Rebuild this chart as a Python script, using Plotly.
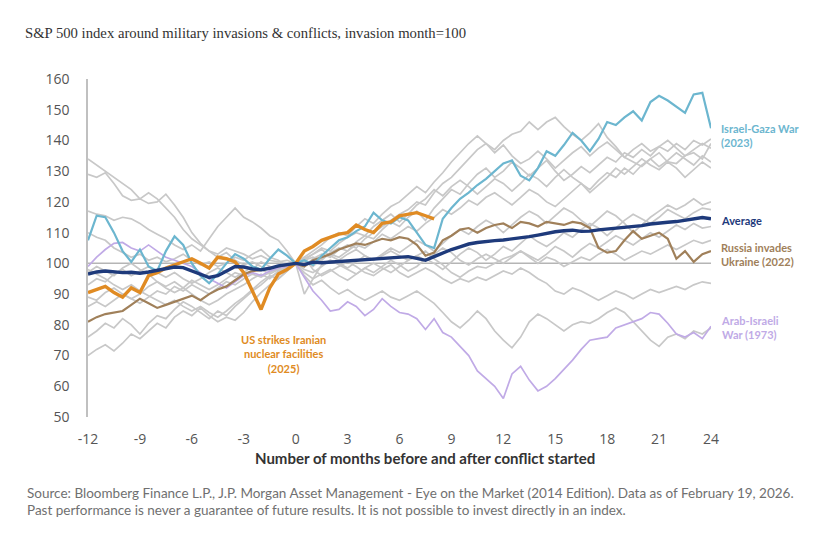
import plotly.graph_objects as go

months = [m / 2 for m in range(-24, 49)]  # -12 .. 24 step 0.5

israel_gaza_2023 = [107.5, 115.5, 115, 110, 104, 100.5, 104.5, 99, 97.5, 104, 108.8, 106, 100, 96, 93.5, 96.5, 100, 103, 101.5, 99, 98, 101.5, 104.5, 102.5, 100,
                    101, 99.5, 102.5, 105, 107.5, 108.5, 110.5, 112, 116.5, 114, 113, 115, 114, 110, 106, 105, 114.5, 118, 121, 123, 125.5, 127.5, 130, 132.5,
                    133.5, 128.5, 127, 131, 136.5, 135, 138.5, 142.5, 140, 136.5, 140.5, 146, 145, 147.5, 149.5, 146.5, 152.5, 154.5, 153, 151, 149, 155, 155.5, 144]

average = [96.5, 97.2, 97.5, 97.3, 97.0, 97.1, 96.8, 97.2, 97.8, 98.2, 98.8, 98.6, 97.5, 96.3, 95.4, 96.0, 97.5, 99.0, 98.8, 98.2, 97.9, 98.4, 99.2, 99.6, 100,
           99.6, 100.4, 100.2, 100.4, 100.6, 100.8, 101.0, 101.2, 101.4, 101.6, 101.8, 102.0, 102.2, 101.6, 101.0, 102.2, 103.4, 104.5, 105.4, 106.3, 106.8, 107.2, 107.4, 107.6,
           107.9, 108.2, 108.7, 109.2, 109.8, 110.3, 110.6, 110.8, 110.4, 110.5, 110.9, 111.2, 111.4, 111.6, 112.0, 112.3, 112.8, 113.2, 113.4, 113.6, 114.1, 114.6, 114.9, 114.5]

russia_ukraine_2022 = [81, 82.5, 83.5, 84, 84.5, 86.5, 88.5, 87, 85.5, 86.5, 87.5, 88.5, 89.5, 88, 90, 91.5, 92.5, 94.5, 96.5, 97.5, 97.8, 98.5, 99, 99.5, 100,
                       99, 101, 102, 103, 104.5, 105.5, 106.5, 106, 107, 108, 107.5, 108.5, 108, 106, 102.5, 103.5, 107.5, 109, 111, 111.5, 110, 111.5, 112.5, 113,
                       111.5, 113.5, 113, 112, 113.5, 113, 112.5, 113.5, 113, 111.5, 105, 103.5, 104, 107.5, 110.5, 108, 109, 110, 108, 101.5, 104, 100.5, 103, 104]

arab_israeli_1973 = [99, 102, 104.5, 106.5, 106.8, 105, 104, 106, 104, 102, 101, 100, 99, 97, 95, 93.5, 92, 94, 96, 97, 96, 97.5, 98.5, 99, 100,
                     95.5, 91, 88, 84.5, 85, 87.5, 86, 83, 85, 88.5, 86, 84, 83.5, 82, 78.5, 82, 77.5, 76, 73, 70, 65, 62.5, 60, 56,
                     64, 66.5, 62, 58.5, 60, 62.5, 65.5, 68.5, 72, 75, 75.5, 76, 79, 80, 81, 82, 84, 83.5, 80.5, 77, 76, 77.5, 75.5, 79.5]

us_strikes_iran_2025 = [90.5, 91.5, 92.5, 90.5, 89, 92, 90.5, 96, 97, 98.5, 99.5, 100.5, 101.5, 100, 98.5, 102, 101.5, 100.5, 97, 91, 85, 92, 96.5, 98, 100,
                        104, 105.5, 107.5, 108.5, 109.5, 110, 112.5, 111, 110, 113, 113.5, 115.5, 116, 116.5, 115.5, 114.5]

other_conflicts = [
    [134, 132, 130, 128, 126, 124, 121, 123, 121, 118, 115, 111, 108, 106, 104, 103, 105, 104, 103, 101.5, 102.5, 101, 100.5, 101, 100,
     99, 101.5, 103, 102, 104.5, 106, 105, 108, 110, 112, 114, 116, 117.5, 120, 119, 123, 126, 128, 131, 134, 137, 139, 137, 140,
     142, 143, 146, 143.5, 146, 147.5, 144.5, 142, 140, 142.5, 145.5, 141, 138, 134.5, 133, 131.5, 134, 136, 133, 132.5, 135, 136, 134, 139],
    [129, 128, 129.5, 126, 122, 120.5, 121, 119.5, 120, 122.5, 119, 115, 110, 106.5, 104, 102, 103.5, 101, 99.5, 100.5, 99, 98, 99, 99.5, 100,
     101, 102, 101, 103.5, 105, 104, 107, 109, 108, 111, 113.5, 112, 115, 117, 114, 118, 121, 124, 122.5, 126, 129, 131, 128, 130,
     133, 131, 128.5, 131, 133.5, 130, 127, 129, 131.5, 129.5, 132, 134.5, 133, 136, 134.5, 137, 135, 138, 136.5, 139, 137, 140, 138.5, 140.5],
    [117, 116, 115.5, 114, 115, 114.5, 113, 111, 109.5, 108, 106, 104.5, 106, 104, 108, 112, 115, 118, 115, 113.5, 111.5, 109, 107.5, 104, 100,
     101.5, 103, 105, 104, 106.5, 108.5, 110, 109, 112, 114, 116, 113.5, 116, 119, 121, 124, 122, 125, 127, 125, 122.5, 125, 127.5, 126,
     123.5, 126, 129, 127.5, 125, 128, 130.5, 128, 126, 123, 125.5, 128, 131, 129, 131.5, 134, 132, 130.5, 133, 131, 128, 130.5, 133, 131],
    [110, 108.5, 107.5, 105, 103.5, 102, 103, 101, 102, 100.5, 101.5, 103, 101, 99.5, 100.5, 99, 100, 102, 101, 103, 104.5, 102, 101, 99, 100,
     102, 104, 106, 108.5, 110, 109, 112, 114.5, 113, 116, 118.5, 120, 122.5, 125, 123, 126.5, 129.5, 133, 136, 139, 141.5, 139, 136, 138.5,
     135, 132.5, 134, 136.5, 134, 131, 133.5, 136, 138, 135, 137.5, 139.5, 137, 134.5, 137, 139, 136.5, 138, 140, 137.5, 135, 137, 139, 137.5],
    [86, 87.5, 86, 88, 90, 88.5, 87, 89, 91, 90, 92.5, 91, 93, 91.5, 90, 92, 94, 93, 95, 96.5, 95.5, 97, 98.5, 99, 100,
     100.5, 99, 101.5, 103, 102, 104, 106, 105, 107, 109.5, 108, 110, 112, 110.5, 113, 115, 117.5, 116, 118, 120.5, 119, 121.5, 123, 121,
     119, 121.5, 124, 122.5, 120, 118.5, 121, 123.5, 126, 124, 127, 129.5, 128, 131, 129, 132, 134, 131.5, 133.5, 136, 134, 132, 135, 133],
    [76, 78, 80.5, 79, 82, 80, 77, 80.5, 83, 82, 85, 87.5, 86, 84, 82, 84.5, 83, 86, 88.5, 91, 93, 95.5, 97, 98.5, 100,
     98, 97, 99, 101, 100, 98.5, 100.5, 102.5, 101, 103, 105, 103.5, 105.5, 107.5, 106, 104, 106.5, 109, 111, 109.5, 112, 114, 112.5, 110,
     112.5, 115, 117, 115.5, 113, 115.5, 118, 116.5, 114, 112, 114.5, 117, 115.5, 113, 110, 112.5, 115, 117, 119, 117.5, 119, 121, 119, 120],
    [70, 72, 73.5, 71.5, 74, 77, 75.5, 78, 80.5, 79, 82.5, 84.5, 83, 85.5, 83, 81, 82.5, 81.5, 84, 87.5, 90.5, 93, 95, 97.5, 100,
     97, 95, 96.5, 98, 96, 94.5, 96.5, 98.5, 97, 99, 101, 99.5, 97.5, 99, 101.5, 100, 98, 100.5, 103, 105, 103.5, 101, 103, 105.5,
     104, 106.5, 109, 107, 105.5, 107.5, 110, 108.5, 111, 113, 111.5, 109, 111.5, 114, 116, 114.5, 113, 115, 117.5, 116, 114.5, 116.5, 118, 117.5],
    [93, 95, 94, 96.5, 98, 96, 97.5, 99, 97, 95.5, 97, 95, 93.5, 95, 97, 98.5, 97, 95.5, 97, 99, 98, 96.5, 98, 99.5, 100,
     90, 95, 99.5, 101, 99.5, 98, 96.5, 98.5, 100, 98.5, 97, 99, 101, 102.5, 101, 103, 105, 103.5, 101, 99.5, 101.5, 103, 101.5, 100,
     102, 104, 102.5, 101, 103, 105.5, 104, 102, 104.5, 106.5, 105, 107, 109, 107.5, 106, 108, 110, 108.5, 110.5, 112.5, 111, 113, 111.5, 112],
    [97, 99, 97.5, 96, 98.5, 100, 98, 96.5, 94, 92.5, 94, 92, 90, 88, 86.5, 88, 90, 91.5, 93, 95, 96.5, 95, 97.5, 99, 100,
     102, 98, 96, 97.5, 99, 100.5, 99, 97, 96, 98, 99.5, 97, 95.5, 97, 98.5, 97, 95, 93.5, 95, 94, 95.5, 94.5, 96, 97.5,
     96.5, 98.5, 97, 95, 93.5, 91, 90, 92, 91, 89.5, 88, 89.5, 91, 90, 88.5, 90, 91.5, 90.5, 91.5, 92.5, 91.5, 93, 94, 93.5],
    [98, 96.5, 95, 93, 91.5, 93, 91, 89.5, 88, 86.5, 88, 86, 84.5, 86, 84, 82.5, 84.5, 87, 89, 91.5, 94, 96, 95, 97.5, 100,
     96, 93, 94.5, 92, 90, 91.5, 89.5, 88, 89.5, 91, 89, 88, 89.5, 91, 89, 87, 84, 81, 79, 81.5, 84.5, 82, 78, 75,
     72.5, 76, 81, 83.5, 82, 80, 78, 80, 81, 80.5, 82, 84, 85.5, 84, 81, 78, 75, 73, 76, 77, 75.5, 78, 77, 79],
    [89, 88, 90.5, 92, 90, 88.5, 90, 92.5, 94, 92, 90.5, 92, 94.5, 93, 91.5, 93, 95, 97, 96, 98, 100.5, 99, 97.5, 98.5, 100,
     101, 103, 104.5, 102.5, 101, 103, 104.5, 102.5, 101, 102.5, 104, 102.5, 101, 102.5, 104, 101.5, 99.5, 97, 95.5, 97.5, 99, 98.5, 100, 101.5,
     102.5, 104, 102, 100, 102, 101, 99, 100.5, 102, 101, 103, 104.5, 103, 101, 102.5, 104, 103, 104.5, 106, 104.5, 106, 107.5, 106.5, 107.5],
]

tick_values = [-12, -9, -6, -3, 0, 3, 6, 9, 12, 15, 18, 21, 24]
tick_labels = ["-12", "-9", "-6", "-3", "0", "3", "6", "9", "12", "15", "18", "21", "24"]
y_ticks = [50, 60, 70, 80, 90, 100, 110, 120, 130, 140, 150, 160]

GREY = "#c8c8c8"
C_GAZA = "#6cb6cf"
C_AVG = "#1e3a7b"
C_RUS = "#a0805a"
C_ARAB = "#c0aae6"
C_IRAN = "#e08b23"

fig = go.Figure()

for s in other_conflicts:
    fig.add_trace(go.Scatter(x=months[:len(s)], y=s, mode="lines",
                             line=dict(color=GREY, width=1.7), hoverinfo="skip", showlegend=False))

fig.add_trace(go.Scatter(x=months, y=arab_israeli_1973, mode="lines",
                         line=dict(color=C_ARAB, width=1.7), showlegend=False))
fig.add_trace(go.Scatter(x=months, y=russia_ukraine_2022, mode="lines",
                         line=dict(color=C_RUS, width=2.2), showlegend=False))
fig.add_trace(go.Scatter(x=months, y=israel_gaza_2023, mode="lines",
                         line=dict(color=C_GAZA, width=2.2), showlegend=False))
fig.add_trace(go.Scatter(x=months[:len(us_strikes_iran_2025)], y=us_strikes_iran_2025, mode="lines",
                         line=dict(color=C_IRAN, width=3.4), showlegend=False))
fig.add_trace(go.Scatter(x=months, y=average, mode="lines",
                         line=dict(color=C_AVG, width=3.4), showlegend=False))

fig.add_shape(type="line", xref="x", yref="y", x0=-12, x1=24, y0=100, y1=100,
              line=dict(color="#b5b5b5", width=1.5), layer="below")

lab_font = "Lato"
annots = [
    dict(x=24, y=141.5, text="Israel-Gaza War<br>(2023)", color=C_GAZA),
    dict(x=24, y=114, text="Average", color=C_AVG),
    dict(x=24, y=103, text="Russia invades<br>Ukraine (2022)", color=C_RUS),
    dict(x=24, y=79, text="Arab-Israeli<br>War (1973)", color=C_ARAB),
]
for a in annots:
    fig.add_annotation(x=a["x"], y=a["y"], xref="x", yref="y", text="<b>" + a["text"] + "</b>",
                       showarrow=False, xanchor="left", yanchor="middle", xshift=8, align="left",
                       font=dict(family=lab_font, size=11, color=a["color"]))

fig.add_annotation(x=-0.7, y=70.5, xref="x", yref="y",
                   text="<b>US strikes Iranian<br>nuclear facilities<br>(2025)</b>",
                   showarrow=False, xanchor="center", yanchor="middle", align="center",
                   font=dict(family=lab_font, size=11, color=C_IRAN))

# plot area spans 623 x 338 px; convert page pixels to paper coords
def px_x(px):
    return (px - 88) / 623

def px_y(py):
    return (417 - py) / 338

fig.add_annotation(x=px_x(425), y=px_y(458), xref="paper", yref="paper",
                   text="<b>Number of months before and after conflict started</b>",
                   showarrow=False, xanchor="center", yanchor="middle",
                   font=dict(family=lab_font, size=15, color="#333333"))

fig.add_annotation(x=px_x(25), y=px_y(493), xref="paper", yref="paper",
                   text="Source: Bloomberg Finance L.P., J.P. Morgan Asset Management - Eye on the Market (2014 Edition). Data as of February 19, 2026.",
                   showarrow=False, xanchor="left", yanchor="middle",
                   font=dict(family=lab_font, size=13.5, color="#707070"))
fig.add_annotation(x=px_x(25), y=px_y(510), xref="paper", yref="paper",
                   text="Past performance is never a guarantee of future results. It is not possible to invest directly in an index.",
                   showarrow=False, xanchor="left", yanchor="middle",
                   font=dict(family=lab_font, size=13.5, color="#707070"))

fig.update_layout(
    width=836, height=538,
    margin=dict(l=80, r=133, t=71, b=129, autoexpand=False),
    paper_bgcolor="white", plot_bgcolor="white",
    title=dict(text="S&amp;P 500 index around military invasions &amp; conflicts, invasion month=100",
               x=17 / 836, xref="container", xanchor="left", y=1 - 25 / 538, yref="container", yanchor="middle",
               font=dict(family="Liberation Serif", size=14.7, color="#333333")),
    showlegend=False,
)
fig.update_xaxes(range=[-12, 24], tickvals=tick_values, ticktext=tick_labels,
                 showgrid=False, zeroline=False, showline=False, ticks="",
                 ticklabelstandoff=12,
                 tickfont=dict(family="Open Sans", size=14, color="#555555"))
fig.update_yaxes(range=[50, 160], tickvals=y_ticks, showgrid=False, zeroline=False,
                 showline=True, linecolor="#c0c0c0", linewidth=1.5, ticks="",
                 ticklabelstandoff=14,
                 tickfont=dict(family="Open Sans", size=14, color="#555555"))

fig.write_html("out.html")
